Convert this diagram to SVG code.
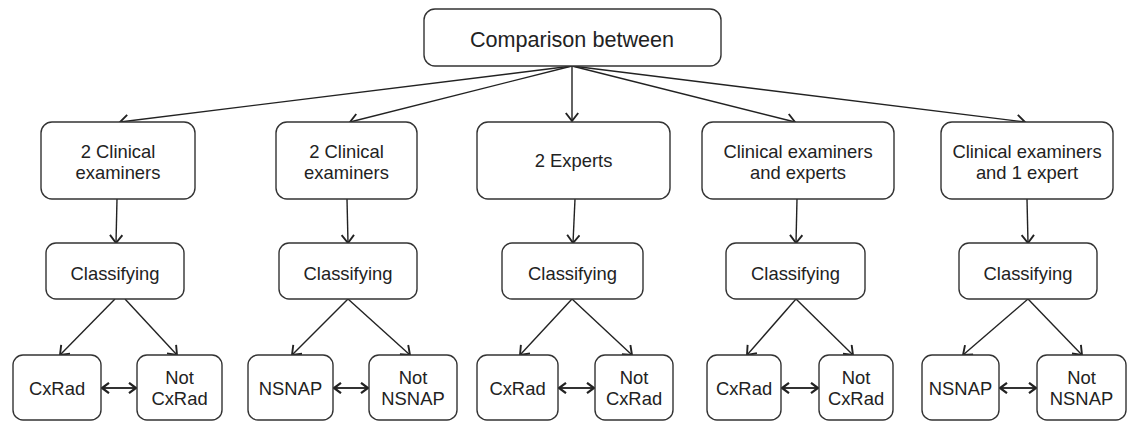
<svg xmlns="http://www.w3.org/2000/svg" width="1128" height="422" viewBox="0 0 1128 422">
<defs>
<style>
.box{fill:#fff;stroke:#333;stroke-width:1.4}
.t{font-family:"Liberation Sans",Arial,sans-serif;font-size:18.4px;fill:#222;text-anchor:middle}
.tt{font-size:21.6px}
.c{fill:none;stroke:#222;stroke-width:1.4}
.d{fill:none;stroke:#333;stroke-width:2.2}
</style>
<marker id="ah" markerUnits="userSpaceOnUse" markerWidth="16" markerHeight="16" refX="10" refY="7" orient="auto">
<path d="M2,0.8 L10,7 L2,13.2" fill="none" stroke="#222" stroke-width="1.9"/>
</marker>
<marker id="ahd" markerUnits="userSpaceOnUse" markerWidth="16" markerHeight="16" refX="9" refY="6" orient="auto-start-reverse">
<path d="M2,0.8 L9,6 L2,11.2" fill="none" stroke="#222" stroke-width="2.2"/>
</marker>
</defs>
<rect width="1128" height="422" fill="#fff"/>
<g id="connectors">
<line class="c" x1="572" y1="66" x2="120" y2="122" marker-end="url(#ah)"/>
<line class="c" x1="572" y1="66" x2="350" y2="122" marker-end="url(#ah)"/>
<line class="c" x1="572" y1="66" x2="572" y2="121" marker-end="url(#ah)"/>
<line class="c" x1="572" y1="66" x2="795" y2="122" marker-end="url(#ah)"/>
<line class="c" x1="572" y1="66" x2="1025" y2="122" marker-end="url(#ah)"/>
<line class="c" x1="117" y1="199" x2="116" y2="243" marker-end="url(#ah)"/>
<line class="c" x1="347" y1="199" x2="348" y2="243" marker-end="url(#ah)"/>
<line class="c" x1="575" y1="199" x2="573" y2="243" marker-end="url(#ah)"/>
<line class="c" x1="797" y1="199" x2="796" y2="243" marker-end="url(#ah)"/>
<line class="c" x1="1027" y1="199" x2="1028" y2="243" marker-end="url(#ah)"/>
<line class="c" x1="115" y1="299" x2="60" y2="355" marker-end="url(#ah)"/>
<line class="c" x1="125" y1="299" x2="177" y2="355" marker-end="url(#ah)"/>
<line class="c" x1="348" y1="299" x2="292" y2="355" marker-end="url(#ah)"/>
<line class="c" x1="348" y1="299" x2="410" y2="355" marker-end="url(#ah)"/>
<line class="c" x1="572" y1="299" x2="520" y2="355" marker-end="url(#ah)"/>
<line class="c" x1="572" y1="299" x2="632" y2="355" marker-end="url(#ah)"/>
<line class="c" x1="796" y1="299" x2="747" y2="355" marker-end="url(#ah)"/>
<line class="c" x1="796" y1="299" x2="853" y2="355" marker-end="url(#ah)"/>
<line class="c" x1="1028" y1="299" x2="963" y2="355" marker-end="url(#ah)"/>
<line class="c" x1="1028" y1="299" x2="1082" y2="355" marker-end="url(#ah)"/>
<line class="d" x1="102" y1="388" x2="136" y2="388" marker-start="url(#ahd)" marker-end="url(#ahd)"/>
<line class="d" x1="334" y1="388" x2="368" y2="388" marker-start="url(#ahd)" marker-end="url(#ahd)"/>
<line class="d" x1="559" y1="388" x2="594" y2="388" marker-start="url(#ahd)" marker-end="url(#ahd)"/>
<line class="d" x1="782" y1="388" x2="818" y2="388" marker-start="url(#ahd)" marker-end="url(#ahd)"/>
<line class="d" x1="1000" y1="388" x2="1036" y2="388" marker-start="url(#ahd)" marker-end="url(#ahd)"/>
</g>
<g id="root"><rect class="box" x="424" y="9" width="297" height="57" rx="11"/><text class="t tt" x="572" y="47">Comparison between</text></g>

<g id="g1"><rect class="box" x="41" y="122" width="154" height="77" rx="11"/><text class="t" x="118" y="158">2 Clinical</text><text class="t" x="118" y="179">examiners</text></g>
<g id="g2"><rect class="box" x="276" y="122" width="141" height="77" rx="11"/><text class="t" x="346.5" y="158">2 Clinical</text><text class="t" x="346.5" y="179">examiners</text></g>
<g id="g3"><rect class="box" x="477" y="122" width="193" height="77" rx="11"/><text class="t" x="573.5" y="167">2 Experts</text></g>
<g id="g4"><rect class="box" x="702" y="122" width="192" height="77" rx="11"/><text class="t" x="798" y="158">Clinical examiners</text><text class="t" x="798" y="179">and experts</text></g>
<g id="g5"><rect class="box" x="941" y="122" width="172" height="77" rx="11"/><text class="t" x="1027" y="158">Clinical examiners</text><text class="t" x="1027" y="179">and 1 expert</text></g>

<g id="c1"><rect class="box" x="46" y="243" width="138" height="56" rx="10"/><text class="t" x="115" y="280">Classifying</text></g>
<g id="c2"><rect class="box" x="279" y="243" width="138" height="56" rx="10"/><text class="t" x="348" y="280">Classifying</text></g>
<g id="c3"><rect class="box" x="502" y="243" width="141" height="56" rx="10"/><text class="t" x="572.5" y="280">Classifying</text></g>
<g id="c4"><rect class="box" x="726" y="243" width="139" height="56" rx="10"/><text class="t" x="795.5" y="280">Classifying</text></g>
<g id="c5"><rect class="box" x="959" y="243" width="138" height="56" rx="10"/><text class="t" x="1028" y="280">Classifying</text></g>

<g id="a1"><rect class="box" x="13" y="355" width="88" height="65" rx="10"/><text class="t" x="57" y="395">CxRad</text></g>
<g id="b1"><rect class="box" x="137" y="355" width="85" height="65" rx="10"/><text class="t" x="179.5" y="384">Not</text><text class="t" x="179.5" y="405">CxRad</text></g>
<g id="a2"><rect class="box" x="248" y="355" width="85" height="65" rx="10"/><text class="t" x="290.5" y="395">NSNAP</text></g>
<g id="b2"><rect class="box" x="369" y="355" width="88" height="65" rx="10"/><text class="t" x="413" y="384">Not</text><text class="t" x="413" y="405">NSNAP</text></g>
<g id="a3"><rect class="box" x="477" y="355" width="81" height="65" rx="10"/><text class="t" x="517.5" y="395">CxRad</text></g>
<g id="b3"><rect class="box" x="595" y="355" width="78" height="65" rx="10"/><text class="t" x="634" y="384">Not</text><text class="t" x="634" y="405">CxRad</text></g>
<g id="a4"><rect class="box" x="707" y="355" width="74" height="65" rx="10"/><text class="t" x="744" y="395">CxRad</text></g>
<g id="b4"><rect class="box" x="819" y="355" width="74" height="65" rx="10"/><text class="t" x="856" y="384">Not</text><text class="t" x="856" y="405">CxRad</text></g>
<g id="a5"><rect class="box" x="922" y="355" width="77" height="65" rx="10"/><text class="t" x="960.5" y="395">NSNAP</text></g>
<g id="b5"><rect class="box" x="1037" y="355" width="89" height="65" rx="10"/><text class="t" x="1081.5" y="384">Not</text><text class="t" x="1081.5" y="405">NSNAP</text></g>
</svg>
